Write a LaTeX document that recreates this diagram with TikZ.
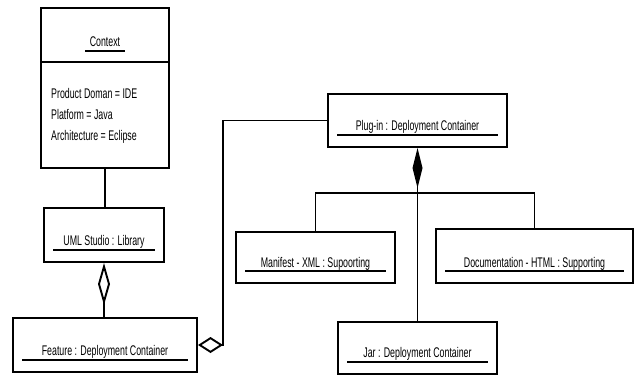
\documentclass[tikz,border=0pt]{standalone}
\usepackage{fontspec}
\setmainfont{Liberation Sans}[FakeStretch=0.63]
\usetikzlibrary{arrows.meta}
\usetikzlibrary{positioning}

\begin{document}
\begin{tikzpicture}[x=1pt,y=-1pt,
    objbox/.style={draw, line width=2pt, rectangle, inner sep=0pt},
    obj/.style={objbox, path picture={\draw[line width=1.3pt] ([xshift=9pt,yshift=12pt]path picture bounding box.south west) -- ([xshift=-9pt,yshift=12pt]path picture bounding box.south east);}},
    lbl/.style={font=\fontsize{14}{16}\selectfont, inner sep=0pt},
    link/.style={line width=1.9pt, line join=miter}]
    \useasboundingbox (0,0) rectangle (640,376);

    \node[objbox, minimum width=128pt, minimum height=54pt] (ctx) at (105,35) {};
    \node[objbox, minimum width=128pt, minimum height=106pt] (ctxattr) at (105,115) {};
    \node[obj, minimum width=120pt, minimum height=54pt] (uml) at (104,235) {};
    \node[obj, minimum width=184pt, minimum height=54pt] (feat) at (105,345) {};
    \node[obj, minimum width=179pt, minimum height=53pt] (plug) at (417.5,120.5) {};
    \node[obj, minimum width=159pt, minimum height=51pt] (mani) at (315.5,257.5) {};
    \node[obj, minimum width=197pt, minimum height=54pt] (doc) at (534.5,256) {};
    \node[obj, minimum width=159pt, minimum height=52pt] (jar) at (417.5,348) {};

    \node[lbl, anchor=base] (ctxT) at ([yshift=17pt]ctx.south) {Context};
    \draw[line width=1.3pt] ([xshift=-4.5pt,yshift=-5pt]ctxT.base west) -- ([xshift=4.5pt,yshift=-5pt]ctxT.base east);
    \node[lbl, anchor=base west] (attr1) at (51,98) {Product Doman = IDE};
    \node[lbl, anchor=base west] (attr2) at (51,119) {Platform = Java};
    \node[lbl, anchor=base west] (attr3) at (51,140) {Architecture = Eclipse};

    \node[lbl, anchor=base] (umlT) at ([yshift=18pt]uml.south) {UML Studio : Library};
    \node[lbl, anchor=base] (featT) at ([yshift=18pt]feat.south) {Feature : Deployment Container};
    \node[lbl, anchor=base] (plugT) at ([yshift=18pt]plug.south) {Plug-in : Deployment Container};
    \node[lbl, anchor=base] (maniT) at ([yshift=17pt]mani.south) {Manifest - XML : Supoorting};
    \node[lbl, anchor=base] (docT) at ([yshift=17pt]doc.south) {Documentation - HTML : Supporting};
    \node[lbl, anchor=base] (jarT) at ([yshift=18pt]jar.south) {Jar : Deployment Container};

    \draw[link] (ctxattr.south) -- (ctxattr.south |- uml.north);
    \draw[link, {Diamond[open,length=42pt,width=12pt]}-] (uml.south) -- (uml.south |- feat.north);
    \draw[link, {Diamond[open,length=25pt,width=16pt]}-] (feat.east) -- ++(25,0) |- (plug.west);
    \draw[link, {Diamond[length=40pt,width=10pt]}-] (plug.south) -- (jar.north);
    \coordinate (fork) at (plug.south |- 0,193);
    \draw[link] (mani.north) |- (fork) -| (doc.north);
\end{tikzpicture}
\end{document}
